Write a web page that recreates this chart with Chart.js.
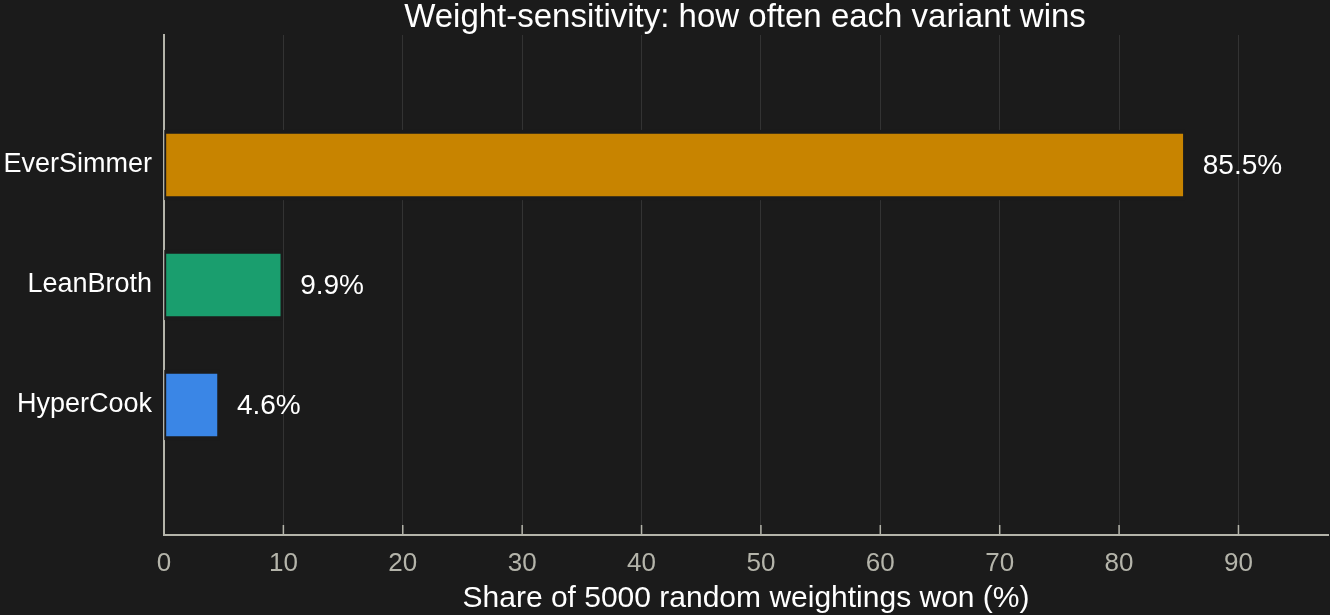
<!DOCTYPE html>
<html>
<head>
<meta charset="utf-8">
<script src="https://cdn.jsdelivr.net/npm/chart.js@4"></script>
<style>
  html, body { margin: 0; padding: 0; background: #1b1b1b; }
  #wrap { width: 1330px; height: 615px; position: relative; }
</style>
</head>
<body>
<div id="wrap"><canvas id="chart"></canvas></div>
<script>
// Datos
const variantes = ['EverSimmer', 'LeanBroth', 'HyperCook'];
const victorias = [85.5, 9.9, 4.6];
const colores = ['#c88400', '#1a9e6e', '#3a86e6'];
const ticksX = [0, 10, 20, 30, 40, 50, 60, 70, 80, 90];

const FONDO = '#1b1b1b';
const EJE = '#b4b4aa';
const FUENTE = '"Liberation Sans", Arial, sans-serif';

// Titulo centrado sobre el area del grafico
const tituloPlugin = {
    id: 'titulo',
    afterDraw(chart) {
        const { ctx, chartArea } = chart;
        ctx.save();
        ctx.fillStyle = '#ffffff';
        ctx.font = '33px ' + FUENTE;
        ctx.textAlign = 'center';
        ctx.textBaseline = 'alphabetic';
        ctx.fillText('Weight-sensitivity: how often each variant wins', (chartArea.left + chartArea.right) / 2 - 1, 27);
        ctx.restore();
    }
};

// Marcas cortas hacia dentro en el eje x
const marcasPlugin = {
    id: 'marcas',
    beforeDatasetsDraw(chart) {
        const { ctx, chartArea, scales } = chart;
        ctx.save();
        ctx.strokeStyle = EJE;
        ctx.lineWidth = 1.5;
        ticksX.forEach(v => {
            const x = scales.x.getPixelForValue(v);
            ctx.beginPath();
            ctx.moveTo(x, chartArea.bottom - 10);
            ctx.lineTo(x, chartArea.bottom);
            ctx.stroke();
        });
        ctx.restore();
    }
};

// Etiquetas de valor
const valoresPlugin = {
    id: 'valores',
    afterDatasetsDraw(chart) {
        const { ctx } = chart;
        const meta = chart.getDatasetMeta(0);
        ctx.save();
        ctx.fillStyle = '#ffffff';
        ctx.font = '28px ' + FUENTE;
        ctx.textAlign = 'left';
        ctx.textBaseline = 'middle';
        meta.data.forEach((bar, i) => {
            ctx.fillText(victorias[i].toFixed(1) + '%', bar.x + 18, bar.y + 1);
        });
        ctx.restore();
    }
};

new Chart(document.getElementById('chart'), {
    type: 'bar',
    data: {
        labels: variantes,
        datasets: [{
            data: victorias.map((v, i) => ({ x: v, y: i })),
            backgroundColor: colores,
            borderColor: FONDO,
            borderWidth: { top: 4, bottom: 4, left: 2, right: 2 },
            borderSkipped: false,
            barThickness: 70
        }]
    },
    options: {
        indexAxis: 'y',
        responsive: true,
        maintainAspectRatio: false,
        animation: false,
        layout: { padding: { top: 35, right: 2, left: 0, bottom: 0 } },
        plugins: {
            legend: { display: false },
            tooltip: { enabled: false }
        },
        scales: {
            x: {
                type: 'linear',
                min: 0,
                max: 97.5,
                afterBuildTicks(scale) {
                    scale.ticks = ticksX.map(v => ({ value: v }));
                },
                afterFit(scale) { scale.height = 80; },
                grid: { color: '#333333', lineWidth: 1, drawTicks: false },
                border: { display: true, color: EJE, width: 2 },
                ticks: {
                    color: EJE,
                    font: { size: 26, family: FUENTE },
                    padding: 13
                },
                title: {
                    display: true,
                    text: 'Share of 5000 random weightings won (%)',
                    color: '#ffffff',
                    font: { size: 30, family: FUENTE },
                    padding: { top: 0, bottom: -2 }
                }
            },
            y: {
                type: 'linear',
                reverse: true,
                offset: false,
                min: -1.0833,
                max: 3.0833,
                afterBuildTicks(scale) {
                    scale.ticks = variantes.map((_, i) => ({ value: i }));
                },
                afterFit(scale) { scale.width = 164; },
                grid: { display: false, drawTicks: false, offset: false },
                border: { display: true, color: EJE, width: 2 },
                ticks: {
                    color: '#ffffff',
                    font: { size: 27, family: FUENTE },
                    padding: 12,
                    callback: v => variantes[v] || ''
                }
            }
        }
    },
    plugins: [tituloPlugin, marcasPlugin, valoresPlugin]
});
</script>
</body>
</html>
